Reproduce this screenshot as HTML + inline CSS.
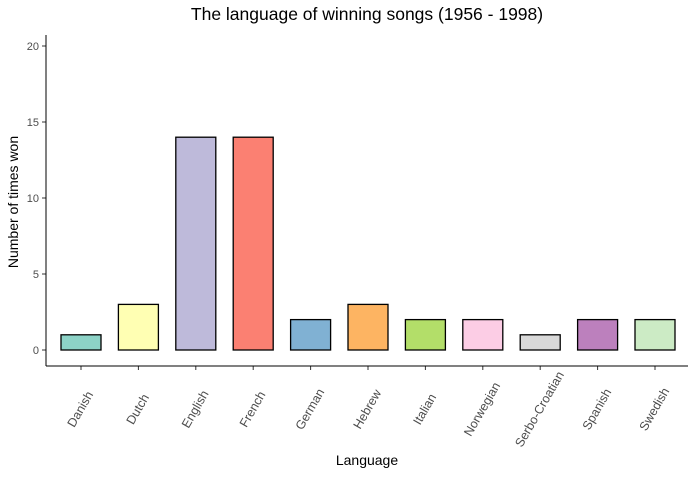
<!DOCTYPE html>
<html><head><meta charset="utf-8"><style>
body{margin:0;background:#fff;font-family:"Liberation Sans",sans-serif}
</style></head><body>
<svg id="chart" width="697" height="475" viewBox="0 0 697 475" xmlns="http://www.w3.org/2000/svg">
<text x="367" y="20" text-anchor="middle" font-size="17.5" fill="#000">The language of winning songs (1956 - 1998)</text>
<text transform="translate(18,202) rotate(-90)" text-anchor="middle" font-size="14">Number of times won</text>
<text x="367" y="465" text-anchor="middle" font-size="14">Language</text>
<g id="marks"></g>
<line x1="46" y1="35" x2="46" y2="366" stroke="#000" stroke-width="1"/>
<line x1="46" y1="366" x2="688" y2="366" stroke="#000" stroke-width="1"/>
</svg>
<script>
const categories=["Danish","Dutch","English","French","German","Hebrew","Italian","Norwegian","Serbo-Croatian","Spanish","Swedish"];
const values=[1,3,14,14,2,3,2,2,1,2,2];
const colors=["#8DD3C7","#FFFFB3","#BEBADA","#FB8072","#80B1D3","#FDB462","#B3DE69","#FCCDE5","#D9D9D9","#BC80BD","#CCEBC5"];
const yTicks=[0,5,10,15,20];
const NS="http://www.w3.org/2000/svg";
const g=document.getElementById('marks');
const y=v=>350-v*15.2;
const x=i=>81+i*57.4;
function mk(t,a){const e=document.createElementNS(NS,t);for(const k in a)e.setAttribute(k,a[k]);g.appendChild(e);return e;}
yTicks.forEach(t=>{
  const l=mk('line',{x1:42,x2:46,y1:y(t),y2:y(t),stroke:'#333'});
  
  
  const tx=mk('text',{x:39,y:y(t)+4,'text-anchor':'end','font-size':11,fill:'#4d4d4d'});
  tx.textContent=t;
  
  
});
categories.forEach((c,i)=>{
  const r=mk('rect',{x:x(i)-20,y:y(values[i]),width:40,height:y(0)-y(values[i]),fill:colors[i],stroke:'#000','stroke-width':1.3});
  
  
  const tk=mk('line',{x1:x(i),x2:x(i),y1:366,y2:370,stroke:'#333'});
  
  
  const tx=mk('text',{x:0,y:4.5,'text-anchor':'middle','font-size':12.5,fill:'#4d4d4d',transform:`translate(${x(i)-1},${409}) rotate(-60)`});
  tx.textContent=c;
  
  
});
</script>
</body></html>
